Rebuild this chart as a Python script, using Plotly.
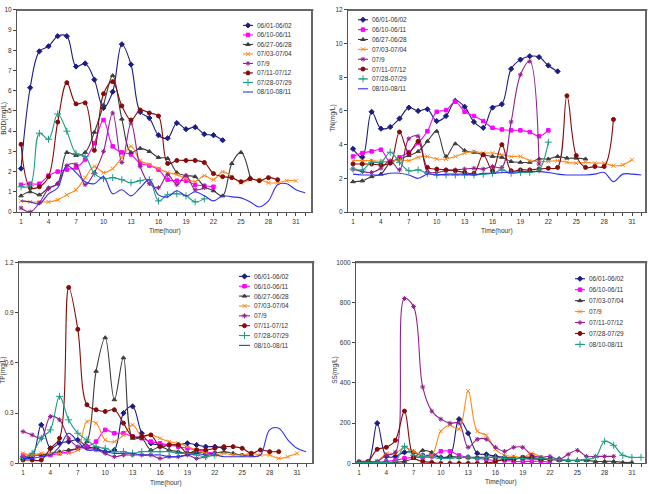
import plotly.graph_objects as go

# ---------------- data ----------------
series_labels = ["06/01-06/02", "06/10-06/11", "06/27-06/28", "07/03-07/04",
                 "07/9", "07/11-07/12", "07/28-07/29", "08/10-08/11"]
ss_labels = ["06/01-06/02", "06/10-06/11", "07/03-07/04", "07/9",
             "07/11-07/12", "07/28-07/29", "08/10-08/11"]
x_tick_labels = ["1", "4", "7", "10", "13", "16", "19", "22", "25", "28", "31"]

# BOD (mg/L)
bod_0601 = [2.15, 6.15, 7.95, 8.2, 8.7, 8.7, 7.2, 7.35, 6.55, 5.15, 5.95, 8.3, 7.3, 4.95, 4.65, 3.8,
            3.65, 4.4, 4.1, 4.2, 3.85, 3.8, 3.55]
bod_0610 = [1.35, 1.4, 1.4, 1.8, 2.0, 2.1, 2.2, 2.6, 3.4, 4.55, 3.25, 2.95, 2.85, 2.4, 2.3, 2.1,
            1.6, 1.55, 1.55, 1.35, 1.3, 1.25]
bod_0627 = [0.8, 1.0, 0.85, 1.2, 1.4, 2.95, 2.8, 2.95, 3.95, 5.3, 6.75, 4.6, 2.95, 3.15, 3.0, 2.7,
            2.65, 1.95, 1.8, 1.75, 1.25, 1.05, 0.8, 2.4, 2.95, 1.7]
bod_0703 = [0.55, 0.5, 0.5, 0.5, 0.6, 0.85, 1.1, 1.7, 2.25, 1.95, 2.15, 2.7, 3.25, 2.55, 2.35, 2.15,
            1.95, 1.85, 1.65, 1.5, 1.8, 1.6, 2.0, 1.75, 1.45, 1.6, 1.6, 1.45, 1.45, 1.55, 1.55]
bod_0709 = [0.2, 0.0, 0.45, 1.15, 1.4, 2.3, 2.35, 1.35, 1.95, 3.0, 4.9, 2.45, 4.4, 2.25, 1.4, 1.2,
            1.85, 1.35, 1.8, 1.1, 1.2]
bod_0711 = [3.35, 1.2, 1.25, 1.75, 4.45, 6.4, 5.35, 5.4, 3.05, 5.85, 6.45, 5.25, 4.55, 5.05, 4.9, 4.75,
            2.4, 2.55, 2.55, 2.55, 2.45, 1.9, 1.75, 1.7, 1.5, 1.65, 1.55, 1.7, 1.6]
bod_0728 = [1.25, 1.3, 3.9, 3.6, 4.85, 4.0, 2.9, 2.75, 1.9, 1.65, 1.7, 1.6, 1.45, 1.55, 1.6, 0.55,
            0.85, 0.9, 0.8, 0.5, 0.65]
bod_0810 = [0.55, 0.5, 0.4, 0.9, 1.2, 2.3, 1.95, 1.5, 1.4, 1.75, 0.9, 1.1, 0.8, 1.2, 1.6, 0.85,
            0.75, 1.05, 0.8, 1.0, 0.8, 0.55, 0.8, 0.75, 0.7, 0.5, 0.25, 0.55, 1.35, 1.4, 1.1, 0.95]

# TN (mg/L)
tn_0601 = [3.75, 3.25, 5.95, 4.95, 5.05, 5.55, 6.2, 6.0, 6.1, 5.4, 5.7, 6.6, 6.25, 5.35, 5.0, 6.2,
           6.4, 8.5, 9.05, 9.25, 9.2, 8.7, 8.35]
tn_0610 = [3.3, 3.5, 3.6, 3.7, 2.95, 3.25, 3.55, 4.1, 4.8, 5.95, 6.05, 6.55, 5.95, 5.7, 5.4, 5.0,
           4.9, 4.85, 4.85, 4.75, 4.5, 4.85]
tn_0627 = [1.8, 1.85, 2.1, 2.25, 2.95, 3.15, 3.35, 3.6, 4.2, 4.8, 3.3, 4.05, 3.65, 3.55, 3.4, 3.3,
           3.25, 3.0, 2.95, 2.95, 3.15, 3.15, 3.3, 3.2, 3.2, 3.15]
tn_0703 = [3.05, 3.05, 3.05, 3.0, 3.0, 3.1, 3.05, 3.25, 3.3, 3.15, 3.15, 3.3, 3.5, 3.6, 3.5, 3.5,
           3.4, 3.3, 3.3, 3.05, 3.0, 3.0, 3.05, 2.95, 2.9, 2.95, 2.9, 2.9, 2.75, 2.8, 3.1]
tn_0709 = [2.55, 2.4, 2.35, 2.6, 3.05, 2.5, 4.35, 4.5, 2.4, 2.35, 2.45, 2.5, 2.55, 2.6, 2.55, 2.7,
           2.65, 5.35, 8.15, 8.95, 2.85]
tn_0711 = [2.85, 2.85, 2.85, 2.8, 2.9, 4.75, 3.5, 4.2, 2.65, 2.55, 2.5, 2.45, 2.35, 2.3, 3.4, 2.45,
           4.0, 2.45, 2.5, 2.5, 2.55, 2.6, 2.65, 6.9, 3.35, 2.65, 2.7, 2.7, 5.5]
tn_0728 = [2.55, 2.5, 2.95, 2.95, 3.55, 2.95, 2.45, 2.5, 2.3, 2.2, 2.2, 2.2, 2.2, 2.2, 2.25, 2.3,
           2.5, 2.3, 2.35, 2.35, 2.5, 4.15]
tn_0810 = [2.25, 2.2, 2.2, 2.2, 2.3, 2.3, 2.2, 2.0, 2.25, 2.2, 2.25, 2.25, 2.25, 2.2, 2.3, 2.3,
           2.35, 2.35, 2.4, 2.4, 2.4, 2.35, 2.25, 2.2, 2.2, 2.2, 2.25, 2.35, 1.8, 2.25, 2.25, 2.2]

# TP (mg/L)
tp_0601 = [0.04, 0.04, 0.23, 0.09, 0.12, 0.13, 0.14, 0.1, 0.09, 0.07, 0.08, 0.3, 0.34, 0.18, 0.12, 0.11,
           0.11, 0.11, 0.12, 0.11, 0.1, 0.1, 0.09]
tp_0610 = [0.05, 0.05, 0.05, 0.05, 0.06, 0.07, 0.09, 0.1, 0.13, 0.2, 0.18, 0.18, 0.16, 0.15, 0.13, 0.12,
           0.11, 0.1, 0.09, 0.08, 0.07, 0.06]
tp_0627 = [0.03, 0.05, 0.05, 0.06, 0.07, 0.08, 0.09, 0.13, 0.55, 0.75, 0.38, 0.63, 0.15, 0.15, 0.08, 0.1,
           0.08, 0.07, 0.06, 0.07, 0.06, 0.06, 0.07, 0.06, 0.05, 0.05]
tp_0703 = [0.06, 0.05, 0.06, 0.06, 0.06, 0.06, 0.08, 0.25, 0.24, 0.14, 0.13, 0.17, 0.23, 0.16, 0.17, 0.15,
           0.13, 0.12, 0.1, 0.08, 0.06, 0.05, 0.06, 0.05, 0.05, 0.06, 0.05, 0.05, 0.03, 0.04, 0.06]
tp_0709 = [0.19, 0.17, 0.15, 0.28, 0.26, 0.15, 0.1, 0.09, 0.08, 0.06, 0.04, 0.05, 0.05, 0.05, 0.05, 0.03,
           0.04, 0.04, 0.05, 0.03, 0.04]
tp_0711 = [0.02, 0.02, 0.02, 0.09, 0.15, 1.05, 0.8, 0.35, 0.32, 0.31, 0.32, 0.24, 0.16, 0.16, 0.17, 0.1,
           0.11, 0.11, 0.06, 0.08, 0.08, 0.09, 0.1, 0.1, 0.09, 0.06, 0.08, 0.07, 0.07]
tp_0728 = [0.03, 0.06, 0.15, 0.2, 0.4, 0.26, 0.18, 0.14, 0.1, 0.09, 0.07, 0.07, 0.06, 0.07, 0.07, 0.07,
           0.07, 0.06, 0.06, 0.05, 0.04, 0.05]
tp_0810 = [0.03, 0.03, 0.04, 0.05, 0.1, 0.18, 0.13, 0.08, 0.08, 0.07, 0.06, 0.06, 0.06, 0.05, 0.05, 0.05,
           0.04, 0.04, 0.05, 0.06, 0.05, 0.05, 0.04, 0.04, 0.04, 0.04, 0.05, 0.2, 0.21, 0.14, 0.09, 0.07]

# SS (mg/L)
ss_0601 = [5, 5, 200, 35, 35, 55, 55, 40, 40, 30, 35, 220, 150, 50, 45, 35, 30, 25, 25, 25, 20, 20, 20]
ss_0610 = [5, 5, 5, 10, 15, 25, 30, 30, 35, 60, 60, 40, 30, 25, 20, 15, 15, 10, 10, 10, 10, 5]
ss_0703 = [5, 5, 5, 5, 5, 10, 25, 65, 55, 30, 35, 30, 30, 30, 30, 30, 30, 25, 25, 25, 20, 20, 15, 15,
           15, 15, 10, 10, 10, 5, 5]
ss_0709 = [5, 5, 10, 50, 50, 80, 60, 40, 40, 160, 190, 170, 360, 160, 140, 70, 40, 35, 30, 50, 30]
ss_0711 = [10, 10, 10, 40, 55, 820, 780, 380, 260, 220, 200, 200, 80, 120, 120, 80, 60, 80, 80, 40,
           30, 35, 20, 45, 65, 35, 35, 35, 35]
ss_0728 = [5, 10, 70, 80, 115, 260, 30, 10, 5, 0, 0, 0, 0, 0, 0, 10, 20, 20, 30, 30, 20, 20]
ss_0810 = [5, 5, 5, 5, 10, 85, 40, 35, 30, 25, 25, 30, 30, 25, 30, 30, 25, 25, 25, 20, 25, 20, 20, 15,
           15, 20, 30, 110, 90, 40, 30, 30]

bod_series = [bod_0601, bod_0610, bod_0627, bod_0703, bod_0709, bod_0711, bod_0728, bod_0810]
tn_series = [tn_0601, tn_0610, tn_0627, tn_0703, tn_0709, tn_0711, tn_0728, tn_0810]
tp_series = [tp_0601, tp_0610, tp_0627, tp_0703, tp_0709, tp_0711, tp_0728, tp_0810]
ss_series = [ss_0601, ss_0610, ss_0703, ss_0709, ss_0711, ss_0728, ss_0810]

# ---------------- styles ----------------
W, H = 649, 494
styles = [
    ("#1c1c84", "diamond", 4),
    ("#ff00ff", "square", 3.5),
    ("#3c3c3c", "triangle-up", 4),
    ("#ff8a1e", "x-thin-open", 4),
    ("#93208f", "asterisk-open", 4),
    ("#850a0a", "circle", 4),
    ("#1f9c84", "cross-thin-open", 5),
    ("#3030f0", None, 0),
]
FONT = "Liberation Sans"
FS = 6.5
TXT = "#333333"
CLEAR = "rgba(0,0,0,0)"

def px_x(p):
    return p / W

def px_y(p):
    return 1 - p / H

# panel geometry in pixels: (left, right, top, bottom, xmin, xmax)
panels = [
    (17, 312, 6, 211, 0.56, 32.75),
    (348, 646, 6, 211, 0.46, 32.5),
    (19, 313, 262, 466, 0.56, 32.75),
    (356, 646, 262, 466, 0.67, 32.55),
]
yranges = [(0, 10, 1), (0, 12, 2), (0, 1.2, 0.3), (0, 1000, 200)]
ytitles = ["BOD(mg/L)", "TN(mg/L)", "TP(mg/L)", "SS(mg/L)"]
ytitle_x = [4, 333, 3, 335]
xtitle_y = [230, 230, 486, 485]

fig = go.Figure()

panel_data = [(bod_series, series_labels, styles),
              (tn_series, series_labels, styles),
              (tp_series, series_labels, styles),
              (ss_series, ss_labels, styles[:7])]

for pi, (sers, labs, stys) in enumerate(panel_data):
    xa = "x" if pi == 0 else "x%d" % (pi + 1)
    ya = "y" if pi == 0 else "y%d" % (pi + 1)
    for vals, lab, (col, sym, ms) in zip(sers, labs, stys):
        hours = list(range(1, len(vals) + 1))
        tr = dict(x=hours, y=vals, name=lab, xaxis=xa, yaxis=ya, showlegend=False,
                  line=dict(color=col, width=1.1, shape="spline", smoothing=1.0))
        if sym:
            tr["mode"] = "lines+markers"
            tr["marker"] = dict(symbol=sym, size=ms, color=col, line=dict(color=col, width=1))
        else:
            tr["mode"] = "lines"
        fig.add_trace(go.Scatter(**tr))

# ---------------- axes ----------------
tickvals_x = list(range(1, 33))
ticktext_x = [str(v) if str(v) in x_tick_labels else "" for v in tickvals_x]

for pi, (l, r, t, b, xmin, xmax) in enumerate(panels):
    sfx = "" if pi == 0 else str(pi + 1)
    ylo, yhi, dt = yranges[pi]
    fig.layout["xaxis" + sfx] = dict(
        domain=[px_x(l), px_x(r)], range=[xmin, xmax], anchor="y" + sfx,
        tickvals=tickvals_x, ticktext=ticktext_x, ticks="outside", ticklen=3,
        tickcolor="#444", showline=True, linecolor="#555", linewidth=1, mirror=True,
        showgrid=False, zeroline=False, tickfont=dict(size=FS, color=TXT, family=FONT),
    )
    fig.layout["yaxis" + sfx] = dict(
        domain=[px_y(b), px_y(t)], range=[ylo, yhi], anchor="x" + sfx, dtick=dt, tick0=0,
        ticks="outside", ticklen=3, tickcolor="#444", showline=True, linecolor="#555",
        linewidth=1, mirror=True, showgrid=False, zeroline=False,
        tickfont=dict(size=FS, color=TXT, family=FONT),
    )
    # heavier top/right frame edges
    fig.add_shape(type="line", xref="paper", yref="paper", x0=px_x(l), x1=px_x(r) + 0.002,
                  y0=px_y(t), y1=px_y(t), line=dict(color="#666", width=2))
    fig.add_shape(type="line", xref="paper", yref="paper", x0=px_x(r), x1=px_x(r),
                  y0=px_y(b), y1=px_y(t), line=dict(color="#666", width=2))
    fig.add_annotation(text=ytitles[pi], xref="paper", yref="paper", x=px_x(ytitle_x[pi]),
                       y=px_y((t + b) / 2 + 8), textangle=-90, showarrow=False,
                       font=dict(size=FS, color=TXT, family=FONT), xanchor="center", yanchor="middle")
    fig.add_annotation(text="Time(hour)", xref="paper", yref="paper", x=px_x((l + r) / 2),
                       y=px_y(xtitle_y[pi]), showarrow=False,
                       font=dict(size=FS, color=TXT, family=FONT), xanchor="center", yanchor="middle")

# ---------------- legends (compact, drawn on an overlay pixel axis) ----------------
fig.layout["xaxis5"] = dict(domain=[0, 1], range=[0, W], visible=False, anchor="y5", fixedrange=True)
fig.layout["yaxis5"] = dict(domain=[0, 1], range=[H, 0], visible=False, anchor="x5", fixedrange=True)

legend_geo = [  # (glyph x0, glyph x1, first y, spacing)
    (243, 253, 21.7, 9.65),
    (358, 368, 16.0, 10.0),
    (239, 250, 276.3, 10.0),
    (575, 585, 278.7, 11.1),
]
for pi, (sers, labs, stys) in enumerate(panel_data):
    gx0, gx1, gy, gs = legend_geo[pi]
    for k, (lab, (col, sym, ms)) in enumerate(zip(labs, stys)):
        yy = gy + k * gs
        fig.add_trace(go.Scatter(x=[gx0, gx1], y=[yy, yy], mode="lines", xaxis="x5", yaxis="y5",
                                 showlegend=False, hoverinfo="skip",
                                 line=dict(color=col, width=1.1)))
        if sym:
            fig.add_trace(go.Scatter(x=[(gx0 + gx1) / 2], y=[yy], mode="markers", xaxis="x5",
                                     yaxis="y5", showlegend=False, hoverinfo="skip",
                                     marker=dict(symbol=sym, size=ms, color=col,
                                                 line=dict(color=col, width=1))))
        fig.add_annotation(text=lab, xref="x5", yref="y5", x=gx1 + 2, y=yy, showarrow=False,
                           xanchor="left", yanchor="middle",
                           font=dict(size=FS, color=TXT, family=FONT))

fig.update_layout(
    width=W, height=H, margin=dict(l=0, r=0, t=0, b=0),
    paper_bgcolor="white", plot_bgcolor=CLEAR, showlegend=False,
)

fig.write_html("out.html")
